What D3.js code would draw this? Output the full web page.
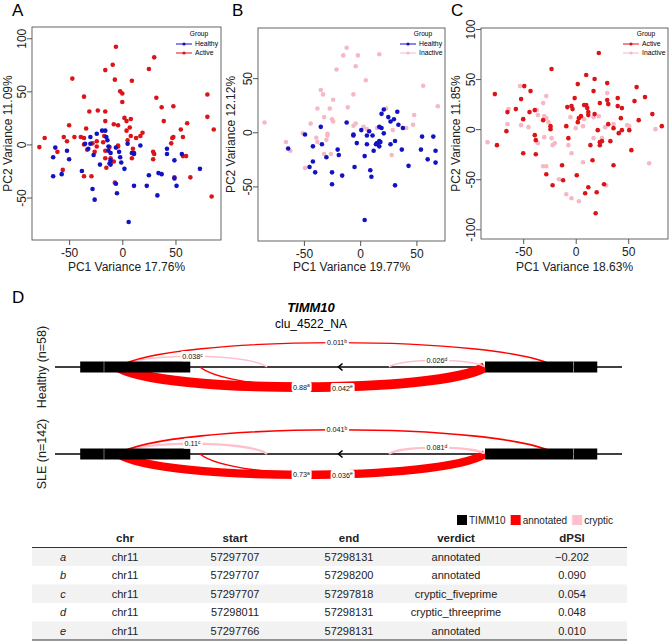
<!DOCTYPE html>
<html><head><meta charset="utf-8">
<script src="https://cdn.jsdelivr.net/npm/d3@7"></script>
<style>body{margin:0;background:#fff} svg{display:block;font-family:"Liberation Sans",Arial,Helvetica,sans-serif}</style>
</head><body><svg id="fig" width="669" height="641"></svg>
<script>
// ---------------- DATA ----------------
const pcaA_healthy = [[-65,-12],[-65,-30],[-63,-3],[-57,-28],[-52,-6],[-50,-14],[-38,-25],[-35,0.6],[-32,-4],[-30,7],[-30,0.6],[-28,-42],[-27,-10],[-26,-52],[-24,10],[-21,-19],[-19,13],[-16,13],[-15,7],[-14,4],[-13,-2],[-13,-6],[-12,-18],[-11,-8],[-11,-19],[-11,-15],[-6,-3],[-6,-37],[-5,-46],[-3,-7],[-2,-12],[-1,-17],[2,-23],[6,-73],[5,0.6],[9,-8],[11,-8],[11,-39],[11,-9],[17,-1],[23,-39],[25,-29],[33,-48],[34,-27],[37,-28],[42,-4],[42,-9],[49,-15],[49,-32],[51,-39],[56,-9],[73,-23]];
const pcaA_active = [[-78,-2.5],[-73,6],[-61,-7],[-56,-24],[-55,7],[-52,3],[-50,18],[-47,62],[-45,7],[-39,7],[-36,45],[-36,6],[-36,0],[-34,15],[-33,-5],[-36,-30],[-31,31],[-29,-30],[-28,1],[-26,-7],[-24,3],[-24,-2],[-23,32],[-18,2],[-17,8],[-16,70],[-16,31],[-16,22],[-16,-6],[-16,-13],[-15,-22],[-12,-2.5],[-11,-13],[-11,-17],[-9,75],[-8,-16],[-8,19],[-7,-36],[-7,61],[-6,92],[-4,-2],[-4,-1],[-4,18],[-2,50],[0,48],[0,40],[2,25],[4,22],[4,13],[5,4],[7,16],[8,24],[8,8],[9,-13],[9,60],[10,-4],[13,6],[17,8],[19,11],[25,71],[30,82],[29,-7],[30,-9],[29,-14],[32,44],[37,35],[39,22],[46,1],[47,6],[48,7],[48,36],[49,-31],[55,14],[57,7],[61,20],[57,-11],[60,-11],[64,-31],[80,47],[80,26],[86,14],[84,-49]];
const pcaB_healthy = [[-64,-15],[-49,-2],[-45,-32],[-42,-13],[-42,-27],[-40,-37],[-35,5],[-34,-11],[-30,-23],[-25,-37],[-25,-48],[-20,-16],[-19,-21],[-16,-40],[-12,9],[-6,-2],[-6,-3],[-5,-32],[-3,-10],[1,2],[4,-22],[6,-3],[6,-11],[8,1],[9,-35],[10,-41],[11,-3],[12,-17],[14,-11],[15,-10],[17,5],[17,-8],[17,-13],[18,-9],[19,17],[19,4],[21,21],[21,-1],[25,14],[27,10],[27,-11],[30,12],[31,-8],[31,-49],[33,19],[34,7],[37,-16],[38,4],[43,-31],[55,-4],[54,-16],[60,-25],[65,-4],[67,-17],[67,-28],[4,-81]];
const pcaB_inactive = [[-85,9],[-66,-9],[-62,-17],[-51,-1],[-49,-33],[-44,8],[-39,-5],[-38,-9],[-38,22],[-35,39],[-33,35],[-32,14],[-32,-20],[-30,-7],[-29,-3],[-29,-1.5],[-27,22],[-26,-20],[-25,12],[-24,10],[-24,30],[-21,58],[-15,71],[-12,78],[-11,23],[-6,6],[-6,35],[-4,61],[-2,71],[-4,8],[3,5],[5,48],[6,3],[15,4],[17,72],[23,22],[28,-21],[29,2],[38,4],[41,4],[47,7],[48,16],[56,43],[69,24]];
const pcaC_active = [[-77,35],[-75,-16],[-66,-2],[-65,17],[-57,20],[-52,30],[-50,-24],[-50,10],[-49,43],[-44,17],[-43,38],[-39,19],[-39,-6],[-38,-11],[-38,-25],[-31,9],[-28,-45],[-24,3],[-24,0],[-23,60],[-22,-56],[-13,-36],[-12,-51],[-9,3],[-8,22],[-7,-9],[-4,23],[-3,20],[-1,31],[1,-46],[2,7],[2,45],[3,11],[5,13],[8,24],[9,-64],[10,24],[10,54],[11,21],[12,17],[12,14],[12,-58],[16,-31],[14,-16],[17,38],[18,50],[18,15],[20,-63],[19,-84],[21,-1],[22,76],[23,26],[23,-16],[23,-13],[25,-12],[27,-55],[30,29],[30,46],[31,25],[31,5],[33,-12],[36,1],[36,-36],[40,31],[40,23],[41,-4],[43,11],[44,-1],[44,21],[51,-1],[53,-21],[56,28],[58,42],[60,9],[66,32],[73,15],[82,3]];
const pcaC_inactive = [[-84,-13],[-65,5],[-64,20],[-53,43],[-52,4],[-45,2],[-37,19],[-36,14],[-36,-14],[-31,26],[-28,33],[-30,13],[-28,11],[-28,-37],[-31,-37],[-30,-8],[-26,7],[-23,-9],[-22,-16],[-20,-14],[-16,-50],[-9,-65],[-7,-16],[-5,12],[-4,-69],[-4,-24],[0,1],[3,-72],[7,3],[7,-33],[8,10],[17,-9],[17,12],[22,13],[25,-9],[28,2],[29,-56],[30,36],[36,5],[49,4],[51,3],[70,-34],[76,0]];

const xTitles = ['PC1 Variance 17.76%','PC1 Variance 19.77%','PC1 Variance 18.63%'];
const yTitles = ['PC2 Variance 11.09%','PC2 Variance 12.12%','PC2 Variance 11.85%'];
const xTickVals = [-50,0,50];
const yTickA = [-50,0,50,100], yTickB = [-50,0,50], yTickC = [-100,-50,0,50,100];

// Panel D: junction table
const geneName = 'TIMM10';
const clusterName = 'clu_4522_NA';
const rowIds = ['a','b','c','d','e'];
const chrs = ['chr11','chr11','chr11','chr11','chr11'];
const starts = [57297707,57297707,57297707,57298011,57297766];
const ends = [57298131,57298200,57297818,57298131,57298131];
const verdicts = ['annotated','annotated','cryptic_fiveprime','cryptic_threeprime','annotated'];
const dPSI = [-0.202,0.090,0.054,0.048,0.010];
const junctionSide = ['bottom','top','top','top','bottom'];
const psiHealthy = [0.88,0.011,0.038,0.026,0.042];
const psiSLE = [0.73,0.041,0.11,0.081,0.036];
const groupLabels = ['Healthy (n=58)','SLE (n=142)'];
const exonStarts = [57297680,57297697,57298131,57298217];
const exonEnds   = [57297697,57297759,57298217,57298240];
const regionEnds = [57297662,57298264];

// ---------------- STYLE ----------------
const RED='#dc1418', BLUE='#1212c4', LPINK='#f6b8c4';
const ARED='#ff0000', APINK='#ffc0cb';
const svg = d3.select('#fig');

function drawPCA(c){
  const g = svg.append('g');
  const x = d3.scaleLinear().domain(c.xDom).range([c.l,c.r]);
  const y = d3.scaleLinear().domain(c.yDom).range([c.b,c.t]);
  c.groups.slice().reverse().forEach(gr=>{
    g.append('g').selectAll('circle').data(gr.data).join('circle')
      .attr('cx',d=>x(d[0])).attr('cy',d=>y(d[1])).attr('r',2.3).attr('fill',gr.color);
  });
  g.append('rect').attr('x',c.l).attr('y',c.t).attr('width',c.r-c.l).attr('height',c.b-c.t)
    .attr('fill','none').attr('stroke','#555').attr('stroke-width',0.9);
  const xa = g.append('g').attr('transform',`translate(0,${c.b})`)
    .call(d3.axisBottom(x).tickValues(xTickVals).tickSize(5).tickPadding(3).tickFormat(d=>String(d)));
  xa.select('.domain').remove();
  xa.selectAll('line').attr('stroke','#555');
  xa.selectAll('text').attr('font-size',12).attr('font-family','Liberation Sans, Arial, sans-serif').attr('fill','#222');
  const ya = g.append('g').attr('transform',`translate(${c.l},0)`)
    .call(d3.axisLeft(y).tickValues(c.yTicks).tickSize(5).tickFormat(d=>String(d)));
  ya.select('.domain').remove();
  ya.selectAll('line').attr('stroke','#555');
  ya.selectAll('text').attr('font-size',12).attr('font-family','Liberation Sans, Arial, sans-serif').attr('fill','#222')
    .attr('transform','rotate(-90)').attr('x',0).attr('y',-6).attr('dy',0).attr('text-anchor','middle');
  g.append('text').attr('x',(c.l+c.r)/2).attr('y',271).attr('text-anchor','middle')
    .style('font-size','12px').attr('fill','#222').text(c.xTitle);
  g.append('text').attr('transform',`translate(${c.yTitleX},${(c.t+c.b)/2}) rotate(-90)`).attr('text-anchor','middle')
    .style('font-size','12px').attr('fill','#222').text(c.yTitle);
  g.append('text').attr('x',c.letterX).attr('y',16).style('font-size','17px').text(c.letter);
  // legend
  const lg = g.append('g');
  lg.append('text').attr('x',c.r-22).attr('y',35.5).attr('text-anchor','middle').style('font-size','6.6px').text('Group');
  c.groups.forEach((gr,i)=>{
    const yy = 44+9*i;
    lg.append('line').attr('x1',c.r-45).attr('x2',c.r-29).attr('y1',yy).attr('y2',yy).attr('stroke',gr.color).attr('stroke-width',1);
    lg.append('circle').attr('cx',c.r-37).attr('cy',yy).attr('r',1.6).attr('fill',gr.color);
    lg.append('text').attr('x',c.r-26).attr('y',yy+2.3).style('font-size','6.8px').text(gr.name);
  });
}

drawPCA({letter:'A',letterX:12,l:32,r:221,t:27,b:240,xDom:[-84.9,92.8],yDom:[-90,110.6],yTicks:yTickA,
  xTitle:xTitles[0],yTitle:yTitles[0],yTitleX:12,
  groups:[{name:'Healthy',color:BLUE,data:pcaA_healthy},{name:'Active',color:RED,data:pcaA_active}]});
drawPCA({letter:'B',letterX:232,l:258,r:445,t:28,b:241,xDom:[-90.8,75.4],yDom:[-100.4,96.3],yTicks:yTickB,
  xTitle:xTitles[1],yTitle:yTitles[1],yTitleX:235,
  groups:[{name:'Healthy',color:BLUE,data:pcaB_healthy},{name:'Inactive',color:LPINK,data:pcaB_inactive}]});
drawPCA({letter:'C',letterX:451,l:481,r:668,t:28,b:239,xDom:[-90.2,87.9],yDom:[-109.7,101],yTicks:yTickC,
  xTitle:xTitles[2],yTitle:yTitles[2],yTitleX:460,
  groups:[{name:'Active',color:RED,data:pcaC_active},{name:'Inactive',color:LPINK,data:pcaC_inactive}]});

// ---------------- PANEL D ----------------
const D = svg.append('g');
D.append('text').attr('x',12).attr('y',303).style('font-size','17px').text('D');
D.append('text').attr('x',311).attr('y',312).attr('text-anchor','middle')
  .style('font-weight','bold').style('font-style','italic').style('font-size','13px').text(geneName);
D.append('text').attr('x',311).attr('y',328).attr('text-anchor','middle').style('font-size','12px').text(clusterName);

// compressed genomic coordinate scale (piecewise linear)
const gDom = [regionEnds[0],57297707,57297766,57297818,57298011,57298131,57298200,regionEnds[1]];
const xs = d3.scaleLinear().domain(gDom).range([55,118,200,267,389,485,556,622]);
const thick = d3.scaleLinear().domain([0,1]).range([1.2,11]);

// cubic arc whose centre line sits at depth dc
function arc(x1,x2,y0,dir,dc){
  const w=x2-x1, c1=x1+w*0.12, c2=x2-w*0.12, d=dc/0.75;
  const p=d3.path();
  p.moveTo(x1,y0);
  p.bezierCurveTo(c1,y0+dir*d,c2,y0+dir*d,x2,y0);
  return p.toString();
}

const rowYs = [367,454];
[psiHealthy,psiSLE].forEach((psi,ri)=>{
  const y0 = rowYs[ri];
  const g = D.append('g');
  g.append('text').attr('transform',`translate(46,${y0}) rotate(-90)`).attr('text-anchor','middle')
    .style('font-size','12.5px').attr('fill','#222').text(groupLabels[ri]);
  g.append('line').attr('x1',xs(regionEnds[0])).attr('x2',xs(regionEnds[1])).attr('y1',y0).attr('y2',y0)
    .attr('stroke','#000').attr('stroke-width',1.4);
  const junc = rowIds.map((id,i)=>({id,start:starts[i],end:ends[i],side:junctionSide[i],
     cryptic:verdicts[i].startsWith('cryptic'),psi:psi[i]}));
  junc.forEach(j=>{
    const x1=xs(j.start), x2=xs(j.end), w=x2-x1;
    j.h=Math.min(0.077*w,25); j.dir=j.side==='top'?-1:1; j.xc=(x1+x2)/2; j.t=thick(j.psi);
    j.dc=Math.max(j.h-j.t/2,1);
  });
  const order = junc.slice().sort((a,b)=>b.psi-a.psi);
  g.append('g').selectAll('path').data(order).join('path')
    .attr('d',j=>arc(xs(j.start),xs(j.end),y0,j.dir,j.dc))
    .attr('fill','none').attr('stroke',j=>j.cryptic?APINK:ARED).attr('stroke-width',j=>j.t);
  // exons
  exonStarts.forEach((s,i)=>{
    g.append('rect').attr('x',xs(s)).attr('y',y0-5.5).attr('width',xs(exonEnds[i])-xs(s)).attr('height',11).attr('fill','#000');
    if(i>0 && exonEnds[i-1]===s){
      g.append('line').attr('x1',xs(s)).attr('x2',xs(s)).attr('y1',y0-5.5).attr('y2',y0+5.5).attr('stroke','#bbb').attr('stroke-width',0.6);
    }
  });
  // strand arrow
  const ax=(xs(regionEnds[0])+xs(regionEnds[1]))/2;
  g.append('path').attr('d',`M${ax+4},${y0-3.5}L${ax},${y0}L${ax+4},${y0+3.5}`).attr('fill','none').attr('stroke','#000').attr('stroke-width',1.6);
  // labels
  junc.forEach(j=>{
    const lg=g.append('g').attr('transform',`translate(${j.xc},${y0+j.dir*j.dc})`);
    const tx=lg.append('text').attr('text-anchor','middle').attr('dy','0.35em').style('font-size','7.2px').attr('fill','#111');
    tx.append('tspan').text(String(j.psi));
    tx.append('tspan').attr('dy','-0.45em').style('font-size','5px').text(j.id);
    const bb=tx.node().getBBox();
    lg.insert('rect','text').attr('x',bb.x-1.5).attr('y',bb.y-0.5).attr('width',bb.width+3).attr('height',bb.height+1)
      .attr('rx',2).attr('fill','#fff');
  });
});

// legend
const legItems=[{label:geneName,color:'#000'},{label:'annotated',color:ARED},{label:'cryptic',color:APINK}];
let lx=457;
legItems.forEach(it=>{
  D.append('rect').attr('x',lx).attr('y',515).attr('width',10).attr('height',10).attr('fill',it.color);
  const t=D.append('text').attr('x',lx+12).attr('y',524).style('font-size','10px').attr('fill','#222').text(it.label);
  lx += 12 + t.node().getComputedTextLength() + 5;
});

// table
const colKeys=['id','chr','start','end','verdict','dPSI'];
const colHead=['','chr','start','end','verdict','dPSI'];
const colX=d3.scaleOrdinal().domain(colKeys).range([63,125,235,349,456,572]);
const rowY=d3.scaleBand().domain(rowIds).range([547.5,640]);
const T=D.append('g');
T.selectAll('rect.bg').data(rowIds).join('rect').attr('class','bg')
  .attr('x',32).attr('width',595).attr('y',d=>rowY(d)).attr('height',rowY.bandwidth())
  .attr('fill',(d,i)=>i%2===0?'#f2f2f2':'#fff');
T.selectAll('text.h').data(colKeys).join('text').attr('class','h')
  .attr('x',d=>colX(d)).attr('y',542).attr('text-anchor','middle')
  .style('font-size','11.5px').style('font-weight','bold').attr('fill','#222').text((d,i)=>colHead[i]);
const fmt=d3.format('.3f');
const cells=[];
rowIds.forEach((id,i)=>{
  const vals={id,chr:chrs[i],start:String(starts[i]),end:String(ends[i]),verdict:verdicts[i],dPSI:fmt(dPSI[i])};
  colKeys.forEach(k=>cells.push({id,k,v:vals[k]}));
});
T.selectAll('text.c').data(cells).join('text').attr('class','c')
  .attr('x',d=>colX(d.k)).attr('y',d=>rowY(d.id)+rowY.bandwidth()/2).attr('dy','0.35em')
  .attr('text-anchor','middle').style('font-size','11px').style('font-style',d=>d.k==='id'?'italic':'normal')
  .attr('fill','#222').text(d=>d.v);
T.append('line').attr('x1',32).attr('x2',627).attr('y1',547.5).attr('y2',547.5).attr('stroke','#333').attr('stroke-width',1.2);
T.append('line').attr('x1',32).attr('x2',627).attr('y1',640).attr('y2',640).attr('stroke','#333').attr('stroke-width',1.2);
</script></body></html>
